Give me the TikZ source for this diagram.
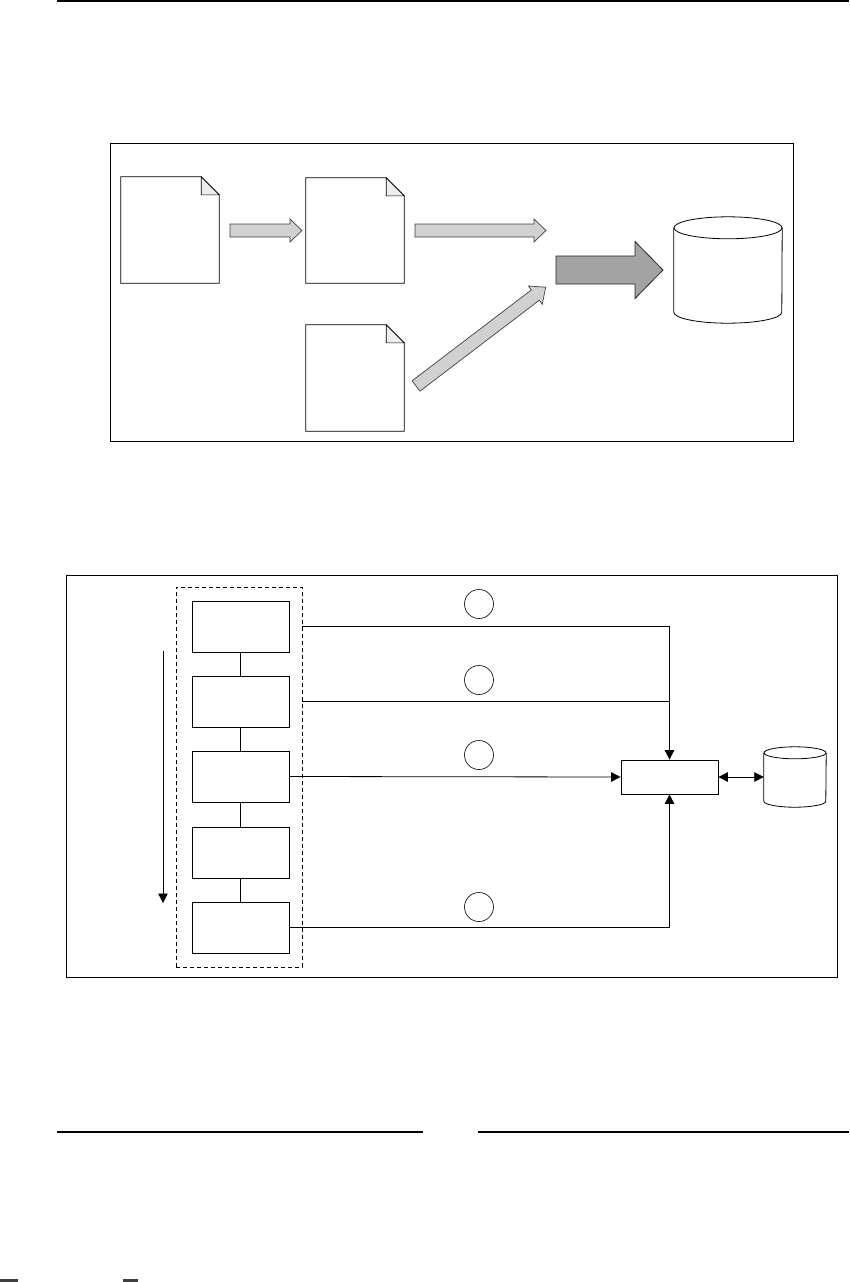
\documentclass[tikz,border=0pt]{standalone}
\usetikzlibrary{arrows.meta,calc}
\newcommand\docoutline[1]{%
  \draw[fill=white, line width=0.8pt] (#1.north west) -- ($(#1.north east)+(-18,0)$) -- ($(#1.north east)+(0,18)$) -- (#1.south east) -- (#1.south west) -- cycle;
  \draw[fill=black!7, line width=0.6pt] ($(#1.north east)+(-18,0)$) -- ($(#1.north east)+(-18,18)$) -- ($(#1.north east)+(0,18)$) -- cycle;}
\newcommand\cylout[3]{%
  \draw[fill=white, line width=0.8pt] ($(#1.north west)+(0,#3)$) -- ($(#1.south west)+(0,-#3)$) arc[start angle=180, end angle=0, x radius=#2, y radius=#3] -- ($(#1.north east)+(0,#3)$);
  \draw[line width=0.8pt] ($(#1.north)+(0,#3)$) ellipse[x radius=#2, y radius=#3];}
\tikzset{
  pics/blockarrow/.style n args={4}{code={%
    \path[pic actions] (0,-#2) -- ({#1-#4},-#2) -- ({#1-#4},-#3) -- (#1,0) -- ({#1-#4},#3) -- ({#1-#4},#2) -- (0,#2) -- cycle;}},
  lightarrow/.style={draw=black!75, fill=black!18, line width=0.7pt},
  darkarrow/.style={draw=black!85, fill=black!36, line width=0.8pt},
  frame/.style={draw, line width=0.8pt},
  docnode/.style={rectangle, draw=none, inner sep=0, minimum width=98pt, minimum height=106pt},
  cylnode/.style={rectangle, draw=none, inner sep=0},
  stepbox/.style={rectangle, draw, line width=0.8pt, inner sep=0, minimum width=97pt, minimum height=51pt},
  num/.style={circle, draw, line width=0.6pt, inner sep=0, minimum size=29pt},
  tip/.style={-{Triangle[length=9.5pt,width=9.5pt]}},
  conn/.style={line width=0.8pt},
}
\begin{document}
\begin{tikzpicture}[x=1pt,y=-1pt]
\useasboundingbox (0,0) rectangle (849,1282);
% page rules
\draw[line width=2pt] (57,1) -- (849,1);
\draw[line width=1.2pt] (57,1132) -- (423,1132);
\draw[line width=1.2pt] (478,1132) -- (849,1132);
\fill[black!75] (0,1279) rectangle (18,1282);
\fill[black!75] (123,1279) rectangle (138,1282);

% ---------- upper figure ----------
\node[frame, rectangle, inner sep=0, minimum width=683pt, minimum height=298pt] (f1) at (451.5,292) {};
\node[docnode] (d1) at (170,230) {};
\node[docnode, minimum height=105pt] (d2) at (355,230.5) {};
\node[docnode] (d3) at (355,378) {};
\docoutline{d1}
\docoutline{d2}
\docoutline{d3}
\pic[lightarrow] at (230,230.5) {blockarrow={72}{6.5}{11.5}{12}};
\pic[lightarrow] at (415,230.5) {blockarrow={131}{6.5}{11.5}{12}};
\pic[lightarrow, rotate=37.3] at (416,386) {blockarrow={163}{6.5}{11.5}{13}};
\pic[darkarrow] at (556,270) {blockarrow={107}{14}{28.5}{28}};
\node[cylnode, minimum width=108pt, minimum height=106pt] (db) at (728,270) {};
\cylout{db}{54}{11}

% ---------- lower figure ----------
\node[frame, rectangle, inner sep=0, minimum width=771pt, minimum height=402pt] (f2) at (451.5,776) {};
\node[rectangle, draw, dash pattern=on 4pt off 3pt, line width=0.8pt, inner sep=0, minimum width=126pt, minimum height=380pt] (grp) at (239,777) {};
\node[stepbox] (s1) at (240.5,626.5) {};
\node[stepbox] (s2) at (240.5,701.5) {};
\node[stepbox] (s3) at (240.5,776.5) {};
\node[stepbox] (s4) at (240.5,852.5) {};
\node[stepbox] (s5) at (240.5,927.5) {};
\draw[conn] (s1) -- (s2);
\draw[conn] (s2) -- (s3);
\draw[conn] (s3) -- (s4);
\draw[conn] (s4) -- (s5);
\coordinate (la1) at (163,651);
\coordinate (la2) at (163,903);
\draw[conn, tip] (la1) -- (la2);

\node[rectangle, draw, line width=0.8pt, inner sep=0, minimum width=97pt, minimum height=34pt] (proc) at (669.5,777) {};
\node[cylnode, minimum width=62pt, minimum height=60pt] (db2) at (795,777) {};
\cylout{db2}{31}{6}

\draw[conn, tip] (grp.east |- s1) -- (proc.north |- s1) -- (proc.north);
\draw[conn] (grp.east |- s2) -- (proc.north |- s2);
\draw[conn, tip] (s3.east) -- (proc.west);
\draw[conn, tip] (s5.east) -- (proc.south |- s5) -- (proc.south);
\draw[conn, {Triangle[length=9.5pt,width=9.5pt]}-{Triangle[length=9.5pt,width=9.5pt]}] (proc.east) -- (db2.west);

\node[num] (c1) at (479,604) {};
\node[num] (c2) at (479,680) {};
\node[num] (c3) at (479,755) {};
\node[num] (c4) at (479,907) {};
\end{tikzpicture}
\end{document}
